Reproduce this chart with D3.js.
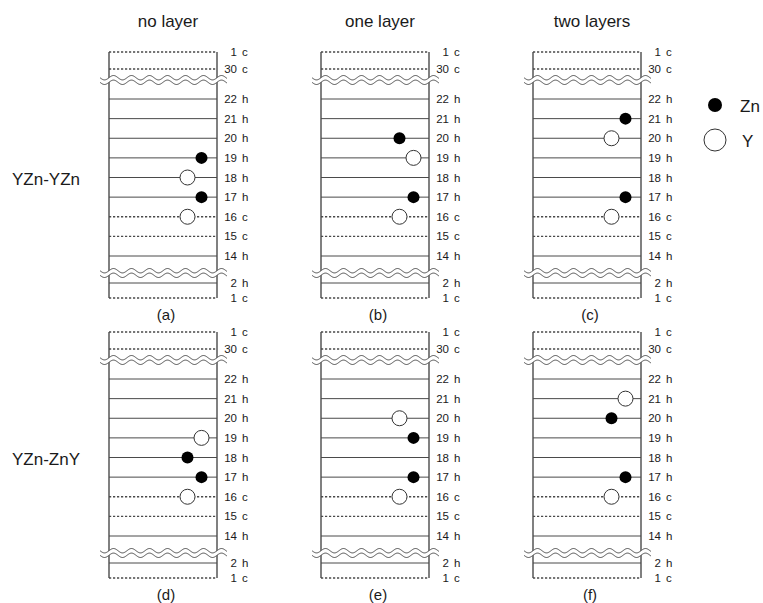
<!DOCTYPE html>
<html>
<head>
<meta charset="utf-8">
<script src="https://cdn.jsdelivr.net/npm/d3@7"></script>
<style>
  body { margin: 0; background: #fff; }
  text { font-family: 'Liberation Sans', Arial, Helvetica, sans-serif; fill: #1a1a1a; }
</style>
</head>
<body>
<svg id="chart" width="763" height="603"></svg>
<script>
// data
const columns = ['no layer', 'one layer', 'two layers']
const structures = ['YZn-YZn', 'YZn-ZnY']
const panelLetters = [['(a)', '(b)', '(c)'], ['(d)', '(e)', '(f)']]
const layerNums = ['1', '30', '22', '21', '20', '19', '18', '17', '16', '15', '14', '2', '1']
const layerTypes = ['c', 'c', 'h', 'h', 'h', 'h', 'h', 'h', 'c', 'c', 'h', 'h', 'c']
const breaksAfter = [1, 10]
const sites = ['s1', 's2']
const elements = ['Zn', 'Y']

// atoms: [layer, element, site]
const atomsA = [['19', 'Zn', 's2'], ['18', 'Y', 's1'], ['17', 'Zn', 's2'], ['16', 'Y', 's1']]
const atomsB = [['20', 'Zn', 's1'], ['19', 'Y', 's2'], ['17', 'Zn', 's2'], ['16', 'Y', 's1']]
const atomsC = [['21', 'Zn', 's2'], ['20', 'Y', 's1'], ['17', 'Zn', 's2'], ['16', 'Y', 's1']]
const atomsD = [['19', 'Y', 's2'], ['18', 'Zn', 's1'], ['17', 'Zn', 's2'], ['16', 'Y', 's1']]
const atomsE = [['20', 'Y', 's1'], ['19', 'Zn', 's2'], ['17', 'Zn', 's2'], ['16', 'Y', 's1']]
const atomsF = [['21', 'Y', 's2'], ['20', 'Zn', 's1'], ['17', 'Zn', 's2'], ['16', 'Y', 's1']]
const atoms = [[atomsA, atomsB, atomsC], [atomsD, atomsE, atomsF]]

const svg = d3.select('#chart')
const lineColor = '#4a4a4a'
const panelWidth = 108

// scales
const xCol = d3.scalePoint().domain(columns).range([109, 533])
const yRow = d3.scalePoint().domain(structures).range([52, 332])
const yLayer = d3.scaleLinear().domain([0, 1, 2, 10, 11, 12]).range([0, 17, 47, 204, 231, 246])
const xSite = d3.scalePoint().domain(sites).range([78.5, 92.5])
const rSize = d3.scaleOrdinal().domain(elements).range([6, 7.5])

function layerIndex(num) {
    // middle block holds unique numbers
    for (let i = 2; i <= 10; i++) {
        if (layerNums[i] === num) return i
    }
    return -1
}

function wavePath(x0, x1, yc) {
    let pts = []
    for (let x = x0; x <= x1 + 0.01; x += 0.5) {
        pts.push([x, yc + 2.2 * Math.sin((x - x0) / 18 * 2 * Math.PI)])
    }
    return pts
}

// column titles
columns.forEach(c => {
    svg.append('text')
        .attr('x', xCol(c) + panelWidth / 2 + 5)
        .attr('y', 27)
        .attr('text-anchor', 'middle')
        .attr('font-size', 17)
        .text(c)
})

// row titles
structures.forEach(s => {
    svg.append('text')
        .attr('x', 12)
        .attr('y', yRow(s) + yLayer(6) + 2)
        .attr('dominant-baseline', 'central')
        .attr('font-size', 17)
        .text(s)
})

structures.forEach((s, ri) => {
    columns.forEach((c, ci) => {
        let left = xCol(c)
        let right = left + panelWidth
        let top = yRow(s)
        let g = svg.append('g')
        // layer lines
        layerNums.forEach((n, i) => {
            let y = top + yLayer(i)
            g.append('line')
                .attr('x1', left).attr('x2', right)
                .attr('y1', y).attr('y2', y)
                .attr('stroke', lineColor)
                .attr('stroke-width', layerTypes[i] === 'c' ? 1.3 : 1)
                .attr('stroke-dasharray', layerTypes[i] === 'c' ? '2.2,1.8' : null)
            g.append('text')
                .attr('x', right + 20)
                .attr('y', y)
                .attr('text-anchor', 'end')
                .attr('dominant-baseline', 'central')
                .attr('font-size', 11.5)
                .text(n)
            g.append('text')
                .attr('x', right + 25)
                .attr('y', y)
                .attr('dominant-baseline', 'central')
                .attr('font-size', 11.5)
                .text(layerTypes[i])
        })
        // box sides
        ;[left, right].forEach(x => {
            g.append('line')
                .attr('x1', x).attr('x2', x)
                .attr('y1', top + yLayer(0)).attr('y2', top + yLayer(12))
                .attr('stroke', lineColor)
                .attr('stroke-width', 1.4)
        })
        // breaks
        breaksAfter.forEach((b, bi) => {
            let yc = bi === 0 ? top + yLayer(b) + 11 : top + yLayer(b + 1) - 10
            let upper = wavePath(left - 9, right + 10, yc - 2.3)
            let lower = wavePath(left - 9, right + 10, yc + 2.3)
            g.append('path')
                .attr('d', d3.line()(upper.concat(lower.slice().reverse())) + 'Z')
                .attr('fill', '#fff')
                .attr('stroke', 'none')
            ;[upper, lower].forEach(p => {
                g.append('path')
                    .attr('d', d3.line()(p))
                    .attr('fill', 'none')
                    .attr('stroke', lineColor)
                    .attr('stroke-width', 1)
            })
        })
        // atoms
        g.selectAll('circle.atom').data(atoms[ri][ci]).enter().append('circle')
            .attr('class', 'atom')
            .attr('cx', d => left + xSite(d[2]))
            .attr('cy', d => top + yLayer(layerIndex(d[0])))
            .attr('r', d => rSize(d[1]))
            .attr('fill', d => d[1] === 'Zn' ? '#000' : '#fff')
            .attr('stroke', d => d[1] === 'Zn' ? 'none' : '#333')
            .attr('stroke-width', 1)
        // panel letter
        g.append('text')
            .attr('x', left + panelWidth / 2 + 3)
            .attr('y', top + yLayer(12) + 16)
            .attr('text-anchor', 'middle')
            .attr('dominant-baseline', 'central')
            .attr('font-size', 15)
            .text(panelLetters[ri][ci])
    })
})

// legend
const legendY = d3.scalePoint().domain(elements).range([105, 140])
const legendR = d3.scaleOrdinal().domain(elements).range([7, 11])
elements.forEach(e => {
    svg.append('circle')
        .attr('cx', 715)
        .attr('cy', legendY(e))
        .attr('r', legendR(e))
        .attr('fill', e === 'Zn' ? '#000' : '#fff')
        .attr('stroke', e === 'Zn' ? 'none' : '#333')
        .attr('stroke-width', 1)
    svg.append('text')
        .attr('x', e === 'Zn' ? 740 : 742)
        .attr('y', legendY(e) + 1)
        .attr('dominant-baseline', 'central')
        .attr('font-size', 17)
        .text(e)
})
</script>
</body>
</html>
